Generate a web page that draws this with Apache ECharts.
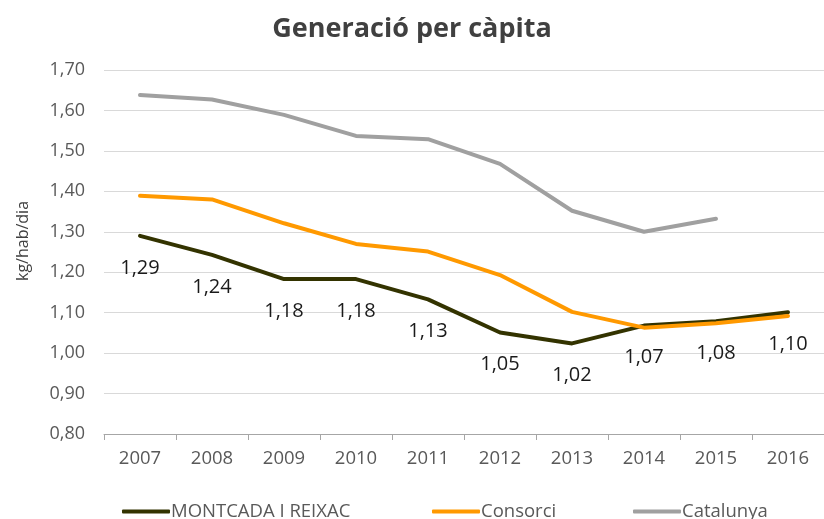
<!DOCTYPE html>
<html><head><meta charset="utf-8">
<script src="https://cdn.jsdelivr.net/npm/echarts@6/dist/echarts.min.js"></script>
<style>html,body{margin:0;padding:0;background:#fff}#c{width:824px;height:519px}</style>
</head><body><div id="c"></div>
<script>
const categories = ['2007','2008','2009','2010','2011','2012','2013','2014','2015','2016'];
const montcada = [1.290, 1.243, 1.183, 1.183, 1.133, 1.051, 1.024, 1.068, 1.079, 1.101];
const consorci = [1.389, 1.380, 1.321, 1.270, 1.251, 1.193, 1.102, 1.063, 1.074, 1.092];
const catalunya = [1.638, 1.627, 1.589, 1.537, 1.529, 1.468, 1.352, 1.300, 1.332, null];
const seriesNames = ['MONTCADA I REIXAC', 'Consorci', 'Catalunya'];
const yTicks = {min: 0.8, max: 1.7, interval: 0.1};

const FONT = '"Open Sans", sans-serif';
const colors = ['#333300', '#FF9900', '#A0A0A0'];
const chart = echarts.init(document.getElementById('c'), null, {renderer: 'canvas'});
const fmt = v => v.toFixed(2).replace('.', ',');
function legend(i, left) {
  return {
    data: [seriesNames[i]], left: left, top: 502, icon: 'roundRect', padding: 0,
    itemWidth: 48, itemHeight: 4, itemGap: 0,
    textStyle: {fontFamily: FONT, fontSize: 18.5, color: '#595959', padding: [0,0,0,-4]}
  };
}
chart.setOption({
  animation: false,
  title: {text: 'Generació per càpita', left: 'center', top: 11,
    textStyle: {fontFamily: FONT, fontSize: 27, fontWeight: 'bold', color: '#404040'}},
  legend: [legend(0, 122), legend(1, 432), legend(2, 633)],
  grid: {left: 104, top: 70, width: 726, height: 364},
  xAxis: {type: 'category', data: categories, boundaryGap: true,
    axisLine: {lineStyle: {color: '#a6a6a6', width: 1}},
    axisTick: {show: true, length: 6, lineStyle: {color: '#a6a6a6'}},
    axisLabel: {fontFamily: FONT, fontSize: 18.5, color: '#595959', margin: 15}},
  yAxis: {type: 'value', min: yTicks.min, max: yTicks.max, interval: yTicks.interval,
    name: 'kg/hab/dia', nameLocation: 'middle', nameGap: 73, nameRotate: 90,
    nameTextStyle: {fontFamily: FONT, fontSize: 16, color: '#404040', padding: [0,0,0,22]},
    axisLine: {show: false}, axisTick: {show: false},
    splitLine: {lineStyle: {color: '#d9d9d9', width: 1}},
    axisLabel: {fontFamily: FONT, fontSize: 18, color: '#595959', margin: 19,
      formatter: v => v.toFixed(2).replace('.', ',')}},
  series: [
    {name: seriesNames[0], type: 'line', data: montcada, symbol: 'circle', symbolSize: 0.01, showSymbol: true, z: 3,
      lineStyle: {color: colors[0], width: 4, cap: 'round', join: 'round'}, itemStyle: {color: colors[0]},
      label: {show: true, position: 'bottom', distance: 22, fontFamily: FONT, fontSize: 20, color: '#1a1a1a',
        formatter: p => fmt(p.value)}},
    {name: seriesNames[1], type: 'line', data: consorci, symbol: 'none', z: 4,
      lineStyle: {color: colors[1], width: 4, cap: 'round', join: 'round'}, itemStyle: {color: colors[1]}},
    {name: seriesNames[2], type: 'line', data: catalunya, symbol: 'none', z: 5,
      lineStyle: {color: colors[2], width: 4, cap: 'round', join: 'round'}, itemStyle: {color: colors[2]}}
  ]
});
</script></body></html>
